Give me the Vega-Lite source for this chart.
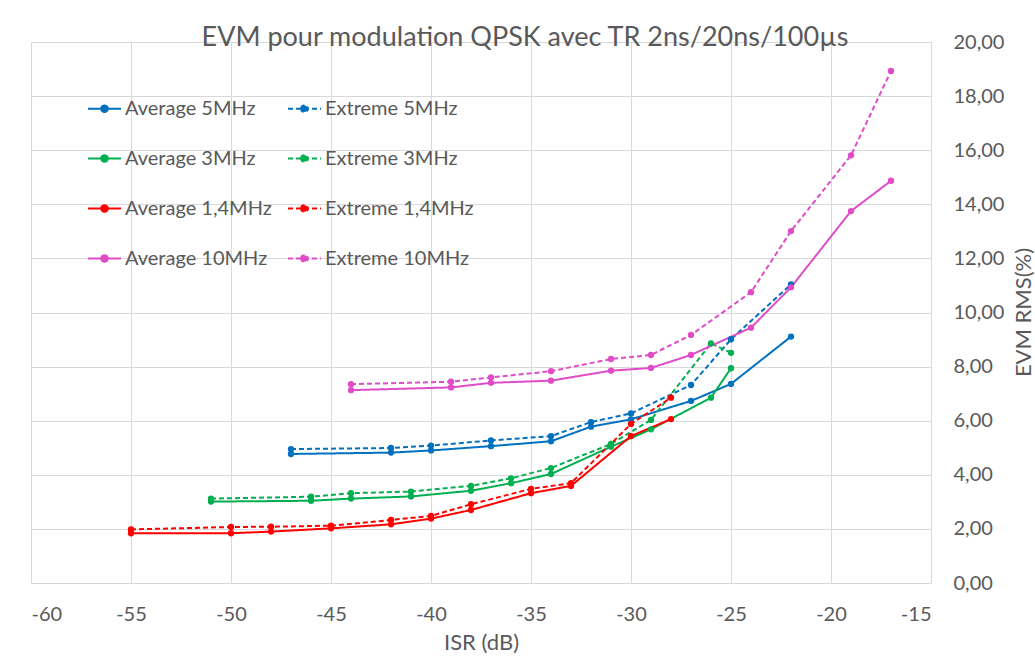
{
  "$schema": "https://vega.github.io/schema/vega-lite/v6.json",
  "width": 900,
  "height": 541,
  "autosize": {"type": "none"},
  "padding": {"left": 31, "top": 42, "right": 104, "bottom": 75},
  "background": "white",
  "title": {
    "text": "EVM pour modulation QPSK avec TR 2ns/20ns/100µs",
    "font": "Lato",
    "fontSize": 27,
    "fontWeight": "normal",
    "color": "#595959",
    "anchor": "middle",
    "dx": 44,
    "offset": -20
  },
  "config": {
    "view": {"stroke": null},
    "font": "Lato",
    "axis": {
      "gridColor": "#D9D9D9",
      "gridWidth": 1,
      "domain": false,
      "ticks": false,
      "labelFont": "Lato",
      "labelColor": "#595959",
      "labelFontSize": 20,
      "titleFont": "Lato",
      "titleColor": "#595959",
      "titleFontSize": 22,
      "titleFontWeight": "normal"
    }
  },
  "data": {
    "values": [
      {"series": "Average 5MHz", "isr": -47, "evm": 4.77},
      {"series": "Average 5MHz", "isr": -42, "evm": 4.82},
      {"series": "Average 5MHz", "isr": -40, "evm": 4.90},
      {"series": "Average 5MHz", "isr": -37, "evm": 5.06},
      {"series": "Average 5MHz", "isr": -34, "evm": 5.24},
      {"series": "Average 5MHz", "isr": -32, "evm": 5.78},
      {"series": "Average 5MHz", "isr": -30, "evm": 6.05},
      {"series": "Average 5MHz", "isr": -27, "evm": 6.73},
      {"series": "Average 5MHz", "isr": -25, "evm": 7.36},
      {"series": "Average 5MHz", "isr": -22, "evm": 9.11},
      {"series": "Extreme 5MHz", "isr": -47, "evm": 4.95},
      {"series": "Extreme 5MHz", "isr": -42, "evm": 4.99},
      {"series": "Extreme 5MHz", "isr": -40, "evm": 5.08},
      {"series": "Extreme 5MHz", "isr": -37, "evm": 5.27},
      {"series": "Extreme 5MHz", "isr": -34, "evm": 5.43},
      {"series": "Extreme 5MHz", "isr": -32, "evm": 5.95},
      {"series": "Extreme 5MHz", "isr": -30, "evm": 6.27},
      {"series": "Extreme 5MHz", "isr": -27, "evm": 7.32},
      {"series": "Extreme 5MHz", "isr": -25, "evm": 9.01},
      {"series": "Extreme 5MHz", "isr": -22, "evm": 11.04},
      {"series": "Average 3MHz", "isr": -51, "evm": 3.01},
      {"series": "Average 3MHz", "isr": -46, "evm": 3.04},
      {"series": "Average 3MHz", "isr": -44, "evm": 3.12},
      {"series": "Average 3MHz", "isr": -41, "evm": 3.20},
      {"series": "Average 3MHz", "isr": -38, "evm": 3.41},
      {"series": "Average 3MHz", "isr": -36, "evm": 3.69},
      {"series": "Average 3MHz", "isr": -34, "evm": 4.03},
      {"series": "Average 3MHz", "isr": -31, "evm": 5.04},
      {"series": "Average 3MHz", "isr": -29, "evm": 5.68},
      {"series": "Average 3MHz", "isr": -26, "evm": 6.85},
      {"series": "Average 3MHz", "isr": -25, "evm": 7.94},
      {"series": "Extreme 3MHz", "isr": -51, "evm": 3.12},
      {"series": "Extreme 3MHz", "isr": -46, "evm": 3.19},
      {"series": "Extreme 3MHz", "isr": -44, "evm": 3.32},
      {"series": "Extreme 3MHz", "isr": -41, "evm": 3.38},
      {"series": "Extreme 3MHz", "isr": -38, "evm": 3.59},
      {"series": "Extreme 3MHz", "isr": -36, "evm": 3.87},
      {"series": "Extreme 3MHz", "isr": -34, "evm": 4.25},
      {"series": "Extreme 3MHz", "isr": -31, "evm": 5.14},
      {"series": "Extreme 3MHz", "isr": -29, "evm": 6.03},
      {"series": "Extreme 3MHz", "isr": -26, "evm": 8.86},
      {"series": "Extreme 3MHz", "isr": -25, "evm": 8.51},
      {"series": "Average 1,4MHz", "isr": -55, "evm": 1.84},
      {"series": "Average 1,4MHz", "isr": -50, "evm": 1.84},
      {"series": "Average 1,4MHz", "isr": -48, "evm": 1.90},
      {"series": "Average 1,4MHz", "isr": -45, "evm": 2.02},
      {"series": "Average 1,4MHz", "isr": -42, "evm": 2.17},
      {"series": "Average 1,4MHz", "isr": -40, "evm": 2.38},
      {"series": "Average 1,4MHz", "isr": -38, "evm": 2.70},
      {"series": "Average 1,4MHz", "isr": -35, "evm": 3.32},
      {"series": "Average 1,4MHz", "isr": -33, "evm": 3.59},
      {"series": "Average 1,4MHz", "isr": -30, "evm": 5.43},
      {"series": "Average 1,4MHz", "isr": -28, "evm": 6.06},
      {"series": "Extreme 1,4MHz", "isr": -55, "evm": 1.98},
      {"series": "Extreme 1,4MHz", "isr": -50, "evm": 2.07},
      {"series": "Extreme 1,4MHz", "isr": -48, "evm": 2.08},
      {"series": "Extreme 1,4MHz", "isr": -45, "evm": 2.12},
      {"series": "Extreme 1,4MHz", "isr": -42, "evm": 2.33},
      {"series": "Extreme 1,4MHz", "isr": -40, "evm": 2.48},
      {"series": "Extreme 1,4MHz", "isr": -38, "evm": 2.91},
      {"series": "Extreme 1,4MHz", "isr": -35, "evm": 3.48},
      {"series": "Extreme 1,4MHz", "isr": -33, "evm": 3.69},
      {"series": "Extreme 1,4MHz", "isr": -30, "evm": 5.88},
      {"series": "Extreme 1,4MHz", "isr": -28, "evm": 6.85},
      {"series": "Average 10MHz", "isr": -44, "evm": 7.13},
      {"series": "Average 10MHz", "isr": -39, "evm": 7.23},
      {"series": "Average 10MHz", "isr": -37, "evm": 7.40},
      {"series": "Average 10MHz", "isr": -34, "evm": 7.48},
      {"series": "Average 10MHz", "isr": -31, "evm": 7.85},
      {"series": "Average 10MHz", "isr": -29, "evm": 7.95},
      {"series": "Average 10MHz", "isr": -27, "evm": 8.43},
      {"series": "Average 10MHz", "isr": -24, "evm": 9.44},
      {"series": "Average 10MHz", "isr": -22, "evm": 10.93},
      {"series": "Average 10MHz", "isr": -19, "evm": 13.75},
      {"series": "Average 10MHz", "isr": -17, "evm": 14.87},
      {"series": "Extreme 10MHz", "isr": -44, "evm": 7.35},
      {"series": "Extreme 10MHz", "isr": -39, "evm": 7.44},
      {"series": "Extreme 10MHz", "isr": -37, "evm": 7.60},
      {"series": "Extreme 10MHz", "isr": -34, "evm": 7.83},
      {"series": "Extreme 10MHz", "isr": -31, "evm": 8.28},
      {"series": "Extreme 10MHz", "isr": -29, "evm": 8.43},
      {"series": "Extreme 10MHz", "isr": -27, "evm": 9.17},
      {"series": "Extreme 10MHz", "isr": -24, "evm": 10.75},
      {"series": "Extreme 10MHz", "isr": -22, "evm": 13.01},
      {"series": "Extreme 10MHz", "isr": -19, "evm": 15.81},
      {"series": "Extreme 10MHz", "isr": -17, "evm": 18.93}
    ]
  },
  "encoding": {
    "x": {
      "field": "isr",
      "type": "quantitative",
      "scale": {"domain": [-60, -15], "nice": false, "zero": false},
      "axis": {
        "title": "ISR (dB)",
        "values": [-60, -55, -50, -45, -40, -35, -30, -25, -20, -15],
        "labelExpr": "'' + datum.value",
        "labelPadding": 21,
        "titlePadding": 8
      }
    },
    "y": {
      "field": "evm",
      "type": "quantitative",
      "scale": {"domain": [0, 20], "nice": false},
      "axis": {
        "orient": "right",
        "title": "EVM RMS(%)",
        "titleAngle": 270,
        "titleAlign": "center",
        "titleBaseline": "middle",
        "titleX": 92,
        "titleY": 270,
        "values": [0, 2, 4, 6, 8, 10, 12, 14, 16, 18, 20],
        "labelExpr": "replace(format(datum.value, '.2f'), '.', ',')",
        "labelPadding": 22
      }
    },
    "color": {
      "field": "series",
      "type": "nominal",
      "scale": {
        "domain": ["Average 5MHz", "Average 3MHz", "Average 1,4MHz", "Average 10MHz", "Extreme 5MHz", "Extreme 3MHz", "Extreme 1,4MHz", "Extreme 10MHz"],
        "range": ["#0070C0", "#00B050", "#FF0000", "#E04CC8", "#0070C0", "#00B050", "#FF0000", "#E04CC8"]
      }
    }
  },
  "layer": [
    {
      "mark": {"type": "line", "strokeWidth": 2},
      "encoding": {
        "strokeDash": {
          "field": "series",
          "type": "nominal",
          "scale": {
            "domain": ["Average 5MHz", "Average 3MHz", "Average 1,4MHz", "Average 10MHz", "Extreme 5MHz", "Extreme 3MHz", "Extreme 1,4MHz", "Extreme 10MHz"],
            "range": [[1, 0], [1, 0], [1, 0], [1, 0], [5, 3], [5, 3], [5, 3], [5, 3]]
          }
        },
        "color": {
          "field": "series",
          "type": "nominal",
          "legend": {
            "title": null,
            "orient": "none",
            "legendX": 56,
            "legendY": 49,
            "columns": 2,
            "padding": 0,
            "rowPadding": 22,
            "columnPadding": 12,
            "symbolType": "M-1,0L1,0M-0.2,0A0.2,0.2,0,1,1,0.2,0A0.2,0.2,0,1,1,-0.2,0Z",
            "symbolSize": 1089,
            "symbolStrokeWidth": 2,
            "labelFont": "Lato",
            "labelFontSize": 20,
            "labelColor": "#595959",
            "labelOffset": 3,
            "labelLimit": 300,
            "encode": {"symbols": {"update": {"fill": {"scale": "color", "field": "value"}}}}
          }
        }
      }
    },
    {
      "mark": {"type": "point", "filled": true, "size": 40, "opacity": 1},
      "encoding": {}
    }
  ]
}
